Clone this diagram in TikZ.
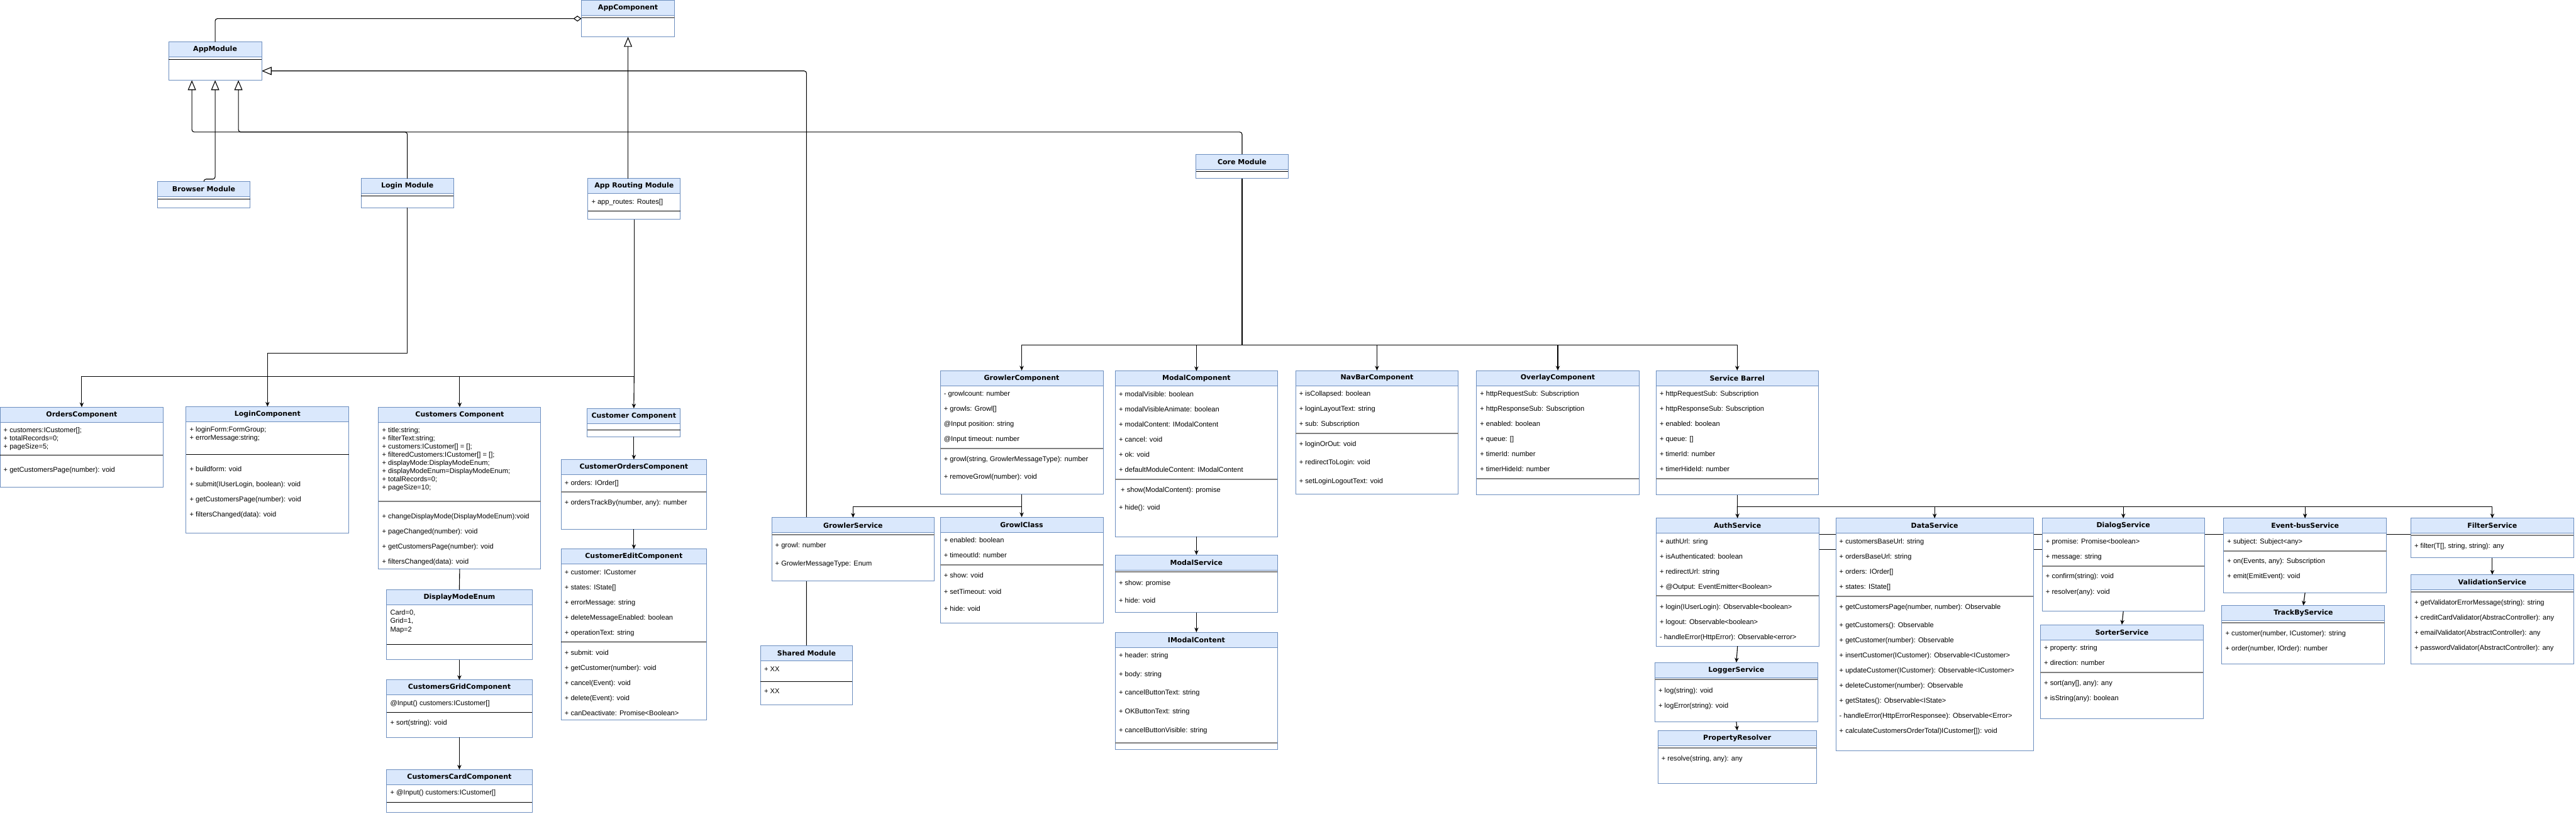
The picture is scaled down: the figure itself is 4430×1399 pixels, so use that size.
\documentclass[tikz,border=0pt]{standalone}
\usepackage{fontspec}
\setmainfont{Liberation Sans}
\newfontfamily\headfont{DejaVu Sans}
\usetikzlibrary{arrows.meta,calc}
\definecolor{umlblue}{HTML}{6C8EBF}
\definecolor{umlfill}{HTML}{DAE8FC}
\definecolor{umlgray}{HTML}{808080}
\pgfdeclarelayer{back}
\pgfsetlayers{back,main}

\begin{document}
\begin{tikzpicture}[x=1pt,y=-1pt,
  cls/.style={draw=umlblue,fill=white,line width=1pt,anchor=north west,inner sep=0pt,outer sep=0pt},
  hdr/.style={draw=umlblue,fill=umlfill,line width=1pt,anchor=north west,inner sep=0pt,outer sep=0pt,minimum height=26pt,font=\headfont\bfseries\fontsize{11.9}{14}\selectfont},
  txt/.style={anchor=base west,inner sep=0pt,align=left,font=\fontsize{12}{14}\selectfont},
  txtw/.style={txt,font=\fontsize{12}{26}\selectfont},
  txtx/.style={txt,font=\fontsize{12}{31}\selectfont},
  sepk/.style={line width=1pt,black},
  sepg/.style={line width=2pt,umlgray},
  conn/.style={line width=1.2pt},
  arr/.style={conn,-{Stealth[length=8pt,width=7pt,inset=2.5pt]}},
  gen/.style={conn,rounded corners=4pt,-{Triangle[open,length=17pt,width=14pt]}},
  agg/.style={conn,rounded corners=4pt,-{Diamond[open,length=14pt,width=10pt]}}]
\useasboundingbox (0,0) rectangle (4430,1399);

% modules
\node[cls,minimum width=160,minimum height=63] (appcomp) at (1000,0.5) {};
\node[hdr,minimum width=160] (appcompH) at (appcomp.north west) {AppComponent};
\draw[sepg] (appcomp.west |- 0,30) -- (appcomp.east |- 0,30);

\node[cls,minimum width=160,minimum height=66] (appmod) at (290,72) {};
\node[hdr,minimum width=160] (appmodH) at (appmod.north west) {AppModule};
\draw[sepk] (appmod.west |- 0,102) -- (appmod.east |- 0,102);

\node[cls,minimum width=159,minimum height=45] (browser) at (271,312) {};
\node[hdr,minimum width=159] (browserH) at (browser.north west) {Browser Module};
\draw[sepk] (browser.west |- 0,342) -- (browser.east |- 0,342);

\node[cls,minimum width=159,minimum height=50] (loginmod) at (621,307) {};
\node[hdr,minimum width=159] (loginmodH) at (loginmod.north west) {Login Module};
\draw[sepk] (loginmod.west |- 0,337) -- (loginmod.east |- 0,337);

\node[cls,minimum width=159,minimum height=70] (routing) at (1011,307) {};
\node[hdr,minimum width=159] (routingH) at (routing.north west) {App Routing Module};
\node[txt] (routingA) at (1017,351) {+ app\_routes: Routes[]};
\draw[sepk] (routing.west |- 0,363) -- (routing.east |- 0,363);

\node[cls,minimum width=158,minimum height=42] (core) at (2057,265) {};
\node[hdr,minimum width=158] (coreH) at (core.north west) {Core Module};
\draw[sepk] (core.west |- 0,295) -- (core.east |- 0,295);

\node[cls,minimum width=158,minimum height=102] (shared) at (1308,1110) {};
\node[hdr,minimum width=158] (sharedH) at (shared.north west) {Shared Module};
\node[txt] (sharedA) at (1314,1154) {+ XX};
\draw[sepk] (shared.west |- 0,1172) -- (shared.east |- 0,1172);
\node[txt] (sharedM) at (1314,1192) {+ XX};

% login and customers side
\node[cls,minimum width=280,minimum height=138] (orders) at (0.5,700) {};
\node[hdr,minimum width=280] (ordersH) at (orders.north west) {OrdersComponent};
\node[txt] (ordersA) at (6,772) {+ customers:ICustomer[];\\+ totalRecords=0;\\+ pageSize=5;};
\draw[sepk] (orders.west |- 0,782) -- (orders.east |- 0,782);
\node[txt] (ordersM) at (6,812) {+ getCustomersPage(number): void};

\node[cls,minimum width=280,minimum height=218] (loginc) at (320,699) {};
\node[hdr,minimum width=280] (logincH) at (loginc.north west) {LoginComponent};
\node[txt] (logincA) at (326,757) {+ loginForm:FormGroup;\\+ errorMessage:string;};
\draw[sepk] (loginc.west |- 0,781) -- (loginc.east |- 0,781);
\node[txtw] (logincM) at (326,889) {+ buildform: void\\+ submit(IUserLogin, boolean): void\\+ getCustomersPage(number): void\\+ filtersChanged(data): void};

\node[cls,minimum width=279,minimum height=278] (customers) at (651,700) {};
\node[hdr,minimum width=279] (customersH) at (customers.north west) {Customers Component};
\node[txt] (customersA) at (657,842) {+ title:string;\\+ filterText:string;\\+ customers:ICustomer[] = [];\\+ filteredCustomers:ICustomer[] = [];\\+ displayMode:DisplayModeEnum;\\+ displayModeEnum=DisplayModeEnum;\\+ totalRecords=0;\\+ pageSize=10;};
\draw[sepg] (customers.west |- 0,862) -- (customers.east |- 0,862);
\node[txtw] (customersM) at (657,970) {+ changeDisplayMode(DisplayModeEnum):void\\+ pageChanged(number): void\\+ getCustomersPage(number): void\\+ filtersChanged(data): void};

\node[cls,minimum width=160,minimum height=49] (customer) at (1010,702) {};
\node[hdr,minimum width=160] (customerH) at (customer.north west) {Customer Component};
\draw[sepk] (customer.west |- 0,739) -- (customer.east |- 0,739);

\node[cls,minimum width=250,minimum height=120] (custorders) at (965,790) {};
\node[hdr,minimum width=250] (custordersH) at (custorders.north west) {CustomerOrdersComponent};
\node[txt] (custordersA) at (971,834) {+ orders: IOrder[]};
\draw[sepg] (custorders.west |- 0,846) -- (custorders.east |- 0,846);
\node[txt] (custordersM) at (971,868) {+ ordersTrackBy(number, any): number};

\node[cls,minimum width=250,minimum height=294] (custedit) at (965,944) {};
\node[hdr,minimum width=250] (custeditH) at (custedit.north west) {CustomerEditComponent};
\node[txtw] (custeditA) at (971,1092) {+ customer: ICustomer\\+ states: IState[]\\+ errorMessage: string\\+ deleteMessageEnabled: boolean\\+ operationText: string};
\draw[sepk] (custedit.west |- 0,1104) -- (custedit.east |- 0,1104);
\node[txtw] (custeditM) at (971,1230) {+ submit: void\\+ getCustomer(number): void\\+ cancel(Event): void\\+ delete(Event): void\\+ canDeactivate: Promise<Boolean>};

\node[cls,minimum width=250,minimum height=120] (dispenum) at (665,1014) {};
\node[hdr,minimum width=250] (dispenumH) at (dispenum.north west) {DisplayModeEnum};
\node[txt,font=\fontsize{12}{14.5}\selectfont] (dispenumA) at (671,1086) {Card=0,\\Grid=1,\\Map=2};
\draw[sepk] (dispenum.west |- 0,1108) -- (dispenum.east |- 0,1108);

\node[cls,minimum width=250,minimum height=99] (grid) at (665,1169) {};
\node[hdr,minimum width=250] (gridH) at (grid.north west) {CustomersGridComponent};
\node[txt] (gridA) at (671,1213) {@Input() customers:ICustomer[]};
\draw[sepk] (grid.west |- 0,1225) -- (grid.east |- 0,1225);
\node[txt] (gridM) at (671,1247) {+ sort(string): void};

\node[cls,minimum width=250,minimum height=74] (card) at (665,1323) {};
\node[hdr,minimum width=250] (cardH) at (card.north west) {CustomersCardComponent};
\node[txt] (cardA) at (671,1367) {+ @Input() customers:ICustomer[]};
\draw[sepk] (card.west |- 0,1379) -- (card.east |- 0,1379);

% core side
\node[cls,minimum width=280,minimum height=213] (growler) at (1617,637) {};
\node[hdr,minimum width=280] (growlerH) at (growler.north west) {GrowlerComponent};
\node[txtw] (growlerA) at (1623,759) {- growlcount: number\\+ growls: Growl[]\\@Input position: string\\@Input timeout: number};
\draw[sepg] (growler.west |- 0,771) -- (growler.east |- 0,771);
\node[txtx] (growlerM) at (1623,824) {+ growl(string, GrowlerMessageType): number\\+ removeGrowl(number): void};

\node[cls,minimum width=280,minimum height=109] (growlersvc) at (1327,890) {};
\node[hdr,minimum width=280] (growlersvcH) at (growlersvc.north west) {GrowlerService};
\draw[sepg] (growlersvc.west |- 0,919) -- (growlersvc.east |- 0,919);
\node[txtx] (growlersvcM) at (1333,973) {+ growl: number\\+ GrowlerMessageType: Enum};

\node[cls,minimum width=280,minimum height=182] (growl) at (1617,889) {};
\node[hdr,minimum width=280] (growlH) at (growl.north west) {GrowlClass};
\node[txtw] (growlA) at (1623,959) {+ enabled: boolean\\+ timeoutId: number};
\draw[sepg] (growl.west |- 0,971) -- (growl.east |- 0,971);
\node[txt,font=\fontsize{12}{29}\selectfont] (growlM) at (1623,1051) {+ show: void\\+ setTimeout: void\\+ hide: void};

\node[cls,minimum width=279,minimum height=285] (modal) at (1918,638) {};
\node[hdr,minimum width=279] (modalH) at (modal.north west) {ModalComponent};
\node[txtw] (modalA) at (1924,812) {+ modalVisible: boolean\\+ modalVisibleAnimate: boolean\\+ modalContent: IModalContent\\+ cancel: void\\+ ok: void\\+ defaultModuleContent: IModalContent};
\draw[sepg] (modal.west |- 0,824) -- (modal.east |- 0,824);
\node[txtx] (modalM) at (1924,877) {\ + show(ModalContent): promise\\+ hide(): void};

\node[cls,minimum width=279,minimum height=99] (modalsvc) at (1918,954) {};
\node[hdr,minimum width=279] (modalsvcH) at (modalsvc.north west) {ModalService};
\draw[sepg] (modalsvc.west |- 0,983) -- (modalsvc.east |- 0,983);
\node[txtx] (modalsvcM) at (1924,1037) {+ show: promise\\+ hide: void};

\node[cls,minimum width=279,minimum height=202] (imodal) at (1918,1087) {};
\node[hdr,minimum width=279] (imodalH) at (imodal.north west) {IModalContent};
\node[txt,font=\fontsize{12}{32}\selectfont] (imodalA) at (1924,1259) {+ header: string\\+ body: string\\+ cancelButtonText: string\\+ OKButtonText: string\\+ cancelButtonVisible: string};
\draw[sepg] (imodal.west |- 0,1277) -- (imodal.east |- 0,1277);

\node[cls,minimum width=280,minimum height=213] (navbar) at (2228,637) {};
\node[hdr,minimum width=280] (navbarH) at (navbar.north west) {NavBarComponent};
\node[txtw] (navbarA) at (2234,733) {+ isCollapsed: boolean\\+ loginLayoutText: string\\+ sub: Subscription};
\draw[sepg] (navbar.west |- 0,745) -- (navbar.east |- 0,745);
\node[txt,font=\fontsize{12}{32}\selectfont] (navbarM) at (2234,831) {+ loginOrOut: void\\+ redirectToLogin: void\\+ setLoginLogoutText: void};

\node[cls,minimum width=280,minimum height=214] (overlay) at (2539,637) {};
\node[hdr,minimum width=280] (overlayH) at (overlay.north west) {OverlayComponent};
\node[txtw] (overlayA) at (2545,811) {+ httpRequestSub: Subscription\\+ httpResponseSub: Subscription\\+ enabled: boolean\\+ queue: []\\+ timerId: number\\+ timerHideId: number};
\draw[sepg] (overlay.west |- 0,823) -- (overlay.east |- 0,823);

\node[cls,minimum width=279,minimum height=214] (barrel) at (2848,637) {};
\node[hdr,minimum width=279] (barrelH) at (barrel.north west) {Service Barrel};
\node[txtw] (barrelA) at (2854,811) {+ httpRequestSub: Subscription\\+ httpResponseSub: Subscription\\+ enabled: boolean\\+ queue: []\\+ timerId: number\\+ timerHideId: number};
\draw[sepg] (barrel.west |- 0,823) -- (barrel.east |- 0,823);

% services
\node[cls,minimum width=280,minimum height=220] (auth) at (2848,891) {};
\node[hdr,minimum width=280] (authH) at (auth.north west) {AuthService};
\node[txtw] (authA) at (2854,1013) {+ authUrl: sring\\+ isAuthenticated: boolean\\+ redirectUrl: string\\+ @Output: EventEmitter<Boolean>};
\draw[sepg] (auth.west |- 0,1024) -- (auth.east |- 0,1024);
\node[txtw] (authM) at (2854,1099) {+ login(IUserLogin): Observable<boolean>\\+ logout: Observable<boolean>\\- handleError(HttpError): Observable<error>};

\node[cls,minimum width=280,minimum height=102] (logger) at (2846,1139) {};
\node[hdr,minimum width=280] (loggerH) at (logger.north west) {LoggerService};
\draw[sepg] (logger.west |- 0,1168) -- (logger.east |- 0,1168);
\node[txtw] (loggerM) at (2852,1217) {+ log(string): void\\+ logError(string): void};

\node[cls,minimum width=273,minimum height=91] (propres) at (2851,1256) {};
\node[hdr,minimum width=273] (propresH) at (propres.north west) {PropertyResolver};
\draw[sepg] (propres.west |- 0,1286) -- (propres.east |- 0,1286);
\node[txt] (propresM) at (2857,1308) {+ resolve(string, any): any};

\node[cls,minimum width=340,minimum height=400] (data) at (3157,891) {};
\node[hdr,minimum width=340] (dataH) at (data.north west) {DataService};
\node[txtw] (dataA) at (3163,1013) {+ customersBaseUrl: string\\+ ordersBaseUrl: string\\+ orders: IOrder[]\\+ states: IState[]};
\draw[sepg] (data.west |- 0,1025) -- (data.east |- 0,1025);
\node[txt] (dataM) at (3163,1047) {+ getCustomersPage(number, number): Observable};
\node[txtw] (dataN) at (3163,1261) {+ getCustomers(): Observable\\+ getCustomer(number): Observable\\+ insertCustomer(ICustomer): Observable<ICustomer>\\+ updateCustomer(ICustomer): Observable<ICustomer>\\+ deleteCustomer(number): Observable\\+ getStates(): Observable<IState>\\- handleError(HttpErrorResponsee): Observable<Error>\\+ calculateCustomersOrderTotal)ICustomer[]): void};

\node[cls,minimum width=279,minimum height=160] (dialog) at (3512,891) {};
\node[hdr,minimum width=279] (dialogH) at (dialog.north west) {DialogService};
\node[txtw] (dialogA) at (3518,961) {+ promise: Promise<boolean>\\+ message: string};
\draw[sepg] (dialog.west |- 0,973) -- (dialog.east |- 0,973);
\node[txtw] (dialogM) at (3518,1021) {+ confirm(string): void\\+ resolver(any): void};

\node[cls,minimum width=280,minimum height=162] (sorter) at (3509,1074) {};
\node[hdr,minimum width=280] (sorterH) at (sorter.north west) {SorterService};
\node[txtw] (sorterA) at (3515,1144) {+ property: string\\+ direction: number};
\draw[sepg] (sorter.west |- 0,1156) -- (sorter.east |- 0,1156);
\node[txtw] (sorterM) at (3515,1204) {+ sort(any[], any): any\\+ isString(any): boolean};

\node[cls,minimum width=280,minimum height=128] (eventbus) at (3824,891) {};
\node[hdr,minimum width=280] (eventbusH) at (eventbus.north west) {Event-busService};
\node[txt] (eventbusA) at (3830,935) {+ subject: Subject<any>};
\draw[sepg] (eventbus.west |- 0,947) -- (eventbus.east |- 0,947);
\node[txtw] (eventbusM) at (3830,995) {+ on(Events, any): Subscription\\+ emit(EmitEvent): void};

\node[cls,minimum width=280,minimum height=100] (trackby) at (3821,1041) {};
\node[hdr,minimum width=280] (trackbyH) at (trackby.north west) {TrackByService};
\draw[sepg] (trackby.west |- 0,1071) -- (trackby.east |- 0,1071);
\node[txtw] (trackbyM) at (3827,1119) {+ customer(number, ICustomer): string\\+ order(number, IOrder): number};

\node[cls,minimum width=280,minimum height=68] (filter) at (4146,891) {};
\node[hdr,minimum width=280] (filterH) at (filter.north west) {FilterService};
\draw[sepg] (filter.west |- 0,920) -- (filter.east |- 0,920);
\node[txt] (filterM) at (4152,943) {+ filter(T[], string, string): any};

\node[cls,minimum width=280,minimum height=153] (validation) at (4146,988) {};
\node[hdr,minimum width=280] (validationH) at (validation.north west) {ValidationService};
\draw[sepg] (validation.west |- 0,1018) -- (validation.east |- 0,1018);
\node[txtw] (validationM) at (4152,1118) {+ getValidatorErrorMessage(string): string\\+ creditCardValidator(AbstracController): any\\+ emailValidator(AbstractController): any\\+ passwordValidator(AbstractController): any};

% lines running behind the boxes
\begin{pgfonlayer}{back}
\draw[gen] (shared.north) |- ($(appmod.east)+(0,17)$);
\draw[conn] (auth.east |- 0,919) -- (filter.west |- 0,919);
\draw[conn] (auth.east |- 0,945) -- (dialog.west |- 0,945);
\end{pgfonlayer}

% module connectors
\draw[agg] (appmod.north) |- (appcomp.west);
\draw[gen] (appcomp.south |- routing.north) -- (appcomp.south);
\draw[gen] (browser.north) -- ++(0,-4) -| (appmod.south);
\draw[gen] (loginmod.north) |- ($(appmod.south)+(40,89)$) -- ($(appmod.south)+(40,0)$);
\draw[gen] (core.north) |- ($(appmod.south)+(-40,89)$) -- ($(appmod.south)+(-40,0)$);

% component connectors
\draw[arr] (loginmod.south) -- ++(0,250) -| (loginc.north);
\coordinate (routeJ) at ($(routing.south)+(0,270)$);
\draw[conn] (routing.south) -- (routeJ);
\draw[arr] (routeJ) -| (orders.north);
\draw[arr] (routeJ) -| (customers.north);
\draw[arr] (routeJ) -- (customer.north);
\draw[conn] (customers.south) -- (dispenum.north);
\draw[arr] (dispenum.south) -- (grid.north);
\draw[arr] (grid.south) -- (card.north);
\draw[arr] (customer.south) -- (custorders.north);
\draw[arr] (custorders.south) -- (custedit.north);

\coordinate (coreJ) at (core.south |- 0,593);
\draw[conn] (core.south) -- (coreJ);
\draw[arr] (coreJ) -| (growler.north);
\draw[arr] (coreJ) -| (modal.north);
\draw[arr] (coreJ) -| (navbar.north);
\draw[arr] (coreJ) -| (overlay.north);
\draw[arr] (coreJ) -| (barrel.north);

\coordinate (growlerJ) at ($(growler.south)+(0,21)$);
\draw[conn] (growler.south) -- (growlerJ);
\draw[arr] (growlerJ) -| (growlersvc.north);
\draw[arr] (growlerJ) -- (growl.north);
\draw[arr] (modal.south) -- (modalsvc.north);
\draw[arr] (modalsvc.south) -- (imodal.north);

\coordinate (barrelJ) at ($(barrel.south)+(0,20)$);
\draw[conn] (barrel.south) -- (barrelJ);
\draw[arr] (barrelJ) -- (auth.north);
\draw[arr] (barrelJ) -| (data.north);
\draw[arr] (barrelJ) -| (dialog.north);
\draw[arr] (barrelJ) -| (eventbus.north);
\draw[arr] (barrelJ) -| (filter.north);
\draw[arr] (auth.south) -- (logger.north);
\draw[arr] (logger.south) -- (propres.north);
\draw[arr] (dialog.south) -- (sorter.north);
\draw[arr] (eventbus.south) -- (trackby.north);
\draw[arr] (filter.south) -- (validation.north);
\end{tikzpicture}
\end{document}
